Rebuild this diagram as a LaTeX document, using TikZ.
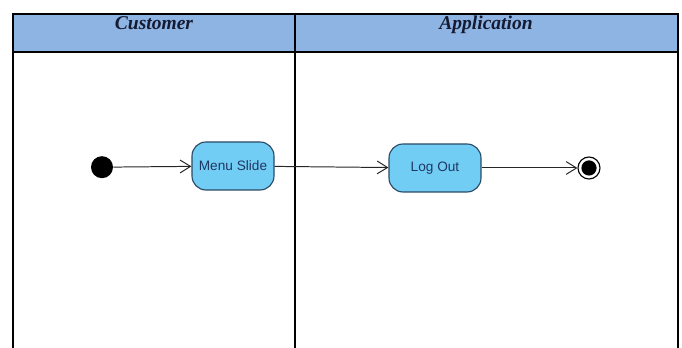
\documentclass[tikz,border=0pt]{standalone}
\usepackage{fontspec}
\setmainfont{Liberation Serif}
\setsansfont{Liberation Sans}
\usepackage{xcolor}
\usetikzlibrary{arrows.meta, positioning, shapes.misc}
\definecolor{laneblue}{HTML}{8EB4E3}
\definecolor{actblue}{HTML}{72CDF4}
\definecolor{actline}{HTML}{2B4A66}
\definecolor{acttext}{HTML}{1F3864}
\definecolor{headtext}{HTML}{151B33}
\tikzset{
    lane/.style={
        draw=black,
        line width=0.8pt
    },
    lanehead/.style={
        font=\fontsize{13.9}{15}\selectfont\bfseries\itshape,
        text=headtext,
        anchor=north,
        inner sep=0pt
    },
    activity/.style={
        rectangle,
        rounded corners=0.35cm,
        draw=actline,
        thick,
        fill=actblue,
        minimum height=1.2cm,
        text=acttext,
        font=\sffamily\fontsize{9.7}{11}\selectfont
    },
    start/.style={
        circle,
        fill=black,
        minimum size=0.55cm,
        inner sep=0pt
    },
    stop/.style={
        circle,
        draw=black,
        thick,
        fill=white,
        minimum size=0.55cm,
        inner sep=0pt
    },
    flow/.style={
        draw=black!85,
        line width=0.7pt,
        -{Straight Barb[length=2.6mm, width=3.2mm]}
    }
}
\begin{document}
\begin{tikzpicture}
\useasboundingbox (0,0) rectangle (17.05,8.7);

% swimlanes
\fill[laneblue] (0.325,7.4) rectangle (16.95,8.35);
\draw[lane] (0.325,0) -- (0.325,8.35) -- (16.95,8.35) -- (16.95,0);
\draw[lane] (0.325,7.4) -- (16.95,7.4);
\draw[lane] (7.375,0) -- (7.375,8.35);
\node[lanehead] (cust) at (3.85,8.3) {Customer};
\node[lanehead] (appl) at (12.15,8.3) {Application};

% activities
\node[start] (init) at (2.55,4.52) {};
\node[activity, minimum width=2.05cm] (menu) at (5.825,4.55) {Menu Slide};
\node[activity, minimum width=2.3cm] (logout) at (10.875,4.5) {Log Out};
\node[stop] (final) at (14.725,4.5) {};
\node[circle, fill=black, minimum size=0.38cm, inner sep=0pt] (finaldot) at (final) {};

\draw[flow] (init) -- (menu);
\draw[flow] (menu) -- (logout);
\draw[flow] (logout) -- (final);

\end{tikzpicture}
\end{document}
